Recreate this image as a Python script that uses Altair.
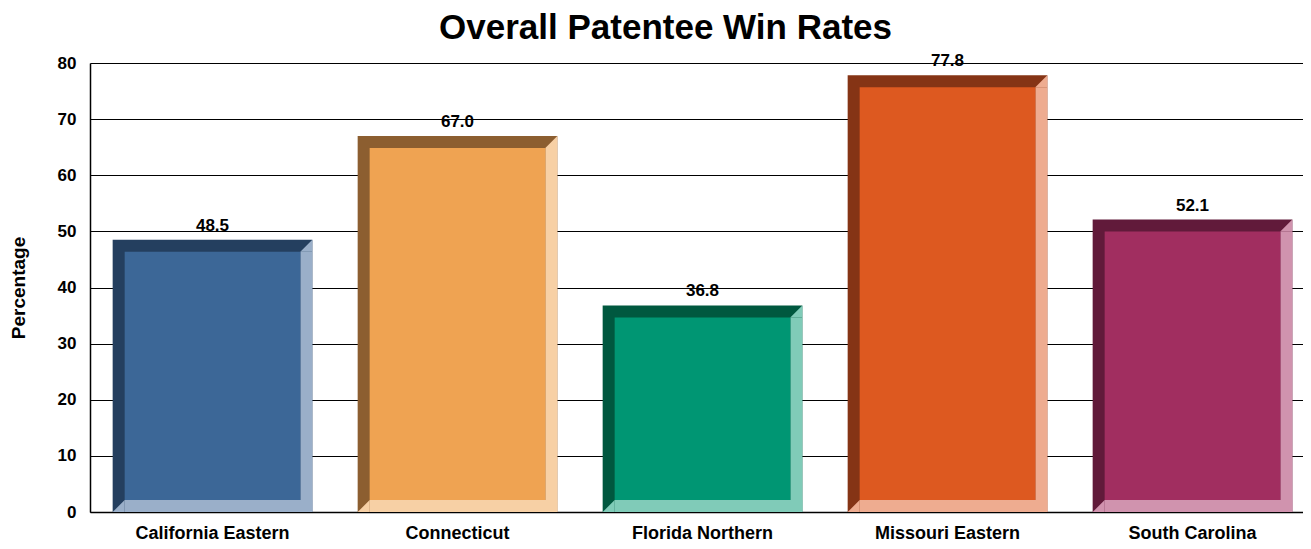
import altair as alt
import pandas as pd

# ---- data ----
categories = ["California Eastern", "Connecticut", "Florida Northern", "Missouri Eastern", "South Carolina"]
win_rates = [48.5, 67.0, 36.8, 77.8, 52.1]
y_ticks = [0, 10, 20, 30, 40, 50, 60, 70, 80]

# ---- styles ----
main_colors = ["#3C6797", "#EFA352", "#009673", "#DD5920", "#A12E60"]
dark_colors = ["#243F5F", "#8C5E30", "#00583F", "#853415", "#611A3A"]
light_colors = ["#9AAFC9", "#F7D0A5", "#80CBB8", "#EEAC90", "#D093AE"]

FONT = "Liberation Sans"
W, H = 1213, 449
RANGE_W = 1225
P_INNER = 0.185
STEP = RANGE_W / len(categories)
BW = STEP * (1 - P_INNER)
BEV = 12

df = pd.DataFrame({
    "district": categories,
    "rate": win_rates,
    "base": [0] * len(categories),
    "label": [f"{v:.1f}" for v in win_rates],
})

x = alt.X(
    "district:N", sort=categories,
    scale=alt.Scale(range=[0, RANGE_W], paddingInner=P_INNER, paddingOuter=P_INNER / 2),
    axis=alt.Axis(title=None, labelAngle=0, labelFontSize=18, labelFontWeight="bold",
                  labelColor="black", labelFont=FONT, labelPadding=12, ticks=False,
                  domainColor="black", domainWidth=1.5, grid=False),
)


def yenc(field):
    return alt.Y(
        f"{field}:Q",
        scale=alt.Scale(domain=[0, 80], nice=False),
        axis=alt.Axis(values=y_ticks, title="Percentage", labelFontSize=17, labelFontWeight="bold",
                      labelColor="black", labelFont=FONT, labelPadding=14, ticks=False,
                      domainColor="black", domainWidth=1.5, grid=True, gridColor="black",
                      gridWidth=1, titleFont=FONT, titleFontSize=19, titleFontWeight="bold",
                      titleColor="black", titleX=-72, titleY=H / 2, titleAngle=270,
                      titleBaseline="middle", titleAlign="center"),
    )


def col(rng):
    return alt.Color("district:N", scale=alt.Scale(domain=categories, range=rng), legend=None)


base = alt.Chart(df)

dark = base.mark_bar(width=BW).encode(x=x, y=yenc("rate"), y2="base", color=col(dark_colors))
light_right = base.mark_bar(width=BEV, xOffset=(BW - BEV) / 2, yOffset=BEV).encode(
    x=x, y=yenc("rate"), y2="base", color=col(light_colors))
light_bottom = base.mark_bar(width=BW - BEV, xOffset=BEV / 2, yOffset=-BEV).encode(
    x=x, y=yenc("base"), y2="base", color=col(light_colors))
tri_tr = base.mark_point(shape="M 1 -1 L 1 1 L -1 1 Z", size=BEV ** 2, filled=True, opacity=1,
                         strokeWidth=0, xOffset=(BW - BEV) / 2, yOffset=BEV / 2).encode(
    x=x, y=yenc("rate"), color=col(light_colors))
tri_bl = base.mark_point(shape="M -1 1 L 1 1 L 1 -1 Z", size=BEV ** 2, filled=True, opacity=1,
                         strokeWidth=0, xOffset=-(BW - BEV) / 2, yOffset=-BEV / 2).encode(
    x=x, y=yenc("base"), color=col(light_colors))
main = base.mark_bar(width=BW - 2 * BEV, yOffset=BEV, y2Offset=-BEV).encode(
    x=x, y=yenc("rate"), y2="base", color=col(main_colors))
labels = base.mark_text(dy=-5, baseline="bottom", fontSize=17, fontWeight="bold", font=FONT,
                        color="black").encode(x=x, y=yenc("rate"), text="label:N")

chart = alt.layer(dark, light_right, light_bottom, tri_tr, tri_bl, main, labels).resolve_scale(
    color="independent"
).properties(
    width=W, height=H,
    title=alt.TitleParams("Overall Patentee Win Rates", fontSize=35, font=FONT, fontWeight="bold",
                          color="black", offset=6, dx=-31, anchor="middle"),
    autosize=alt.AutoSizeParams(type="none"),
    padding={"left": 82, "top": 55, "right": 0, "bottom": 29},
).configure_view(stroke=None).configure(background="white")

chart.save("out.html", embed_options={"renderer": "svg", "actions": False})
